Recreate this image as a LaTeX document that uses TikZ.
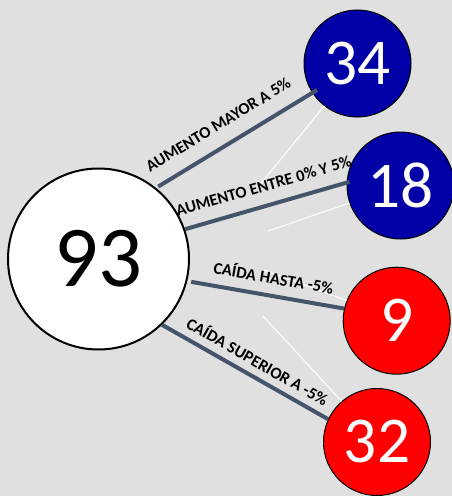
\documentclass[tikz,border=0pt]{standalone}
\usepackage{fontspec}
\setmainfont{Carlito}
\definecolor{bggray}{HTML}{E0E0E0}
\definecolor{slate}{HTML}{44546A}
\definecolor{darkblue}{HTML}{0000A6}
\tikzset{
    bubble/.style={circle, draw=black, line width=0.75pt, inner sep=0pt, minimum size=80.25pt, text=white, font=\fontsize{49}{49}\selectfont},
    conn/.style={slate, line width=3pt},
    thin white/.style={white, line width=0.75pt},
    lbl/.style={sloped, inner sep=0pt, text=black, font=\bfseries\fontsize{12.4}{12.4}\selectfont}
}
\begin{document}
\begin{tikzpicture}[x=0.75pt, y=-0.75pt]
            \useasboundingbox (0, 0) rectangle (452, 496);
            \clip (0, 0) rectangle (452, 496);
            \fill[bggray] (0, 0) rectangle (452, 496);
            \node[circle, draw=black, line width=1.5pt, fill=white, inner sep=0pt, minimum size=135.75pt, font=\fontsize{65}{65}\selectfont] (c93) at (98.5, 259) {93};
            \node[bubble, fill=darkblue] (c34) at (357.5, 63.5) {34};
            \node[bubble, fill=darkblue] (c18) at (400.5, 185.5) {18};
            \node[bubble, fill=red] (c9) at (396.7, 320.7) {9};
            \node[bubble, fill=red] (c32) at (377, 442) {32};
            \coordinate (w1) at (258, 187);
            \coordinate (w2) at (268, 231);
            \coordinate (w3) at (263, 316);
            \coordinate (w4) at (264, 270);
            \draw[thin white] (c34.232) -- (w1);
            \draw[thin white] (c18.199) -- (w2);
            \draw[thin white] (c9.158) -- (w4);
            \draw[thin white] (c32.131) -- (w3);
            \draw[conn, shorten <=1.9pt, shorten >=-4.2pt] (c93.51) -- node[lbl, pos=0.47, above=10.5pt] {AUMENTO MAYOR A 5\%} (c34.213);
            \draw[conn, shorten >=-2.25pt] (c93.19.5) -- node[lbl, pos=0.52, above=9pt] {AUMENTO ENTRE 0\% Y 5\%} (c18.177);
            \draw[conn, shorten <=3pt] (c93.-14.6) -- node[lbl, pos=0.53, above=7.4pt] {CAÍDA HASTA -5\%} (c9.167);
            \draw[conn] (c93.-46.2) -- node[lbl, pos=0.53, above=5.2pt] {CAÍDA SUPERIOR A -5\%} (c32.155.7);
        \end{tikzpicture}
\end{document}
